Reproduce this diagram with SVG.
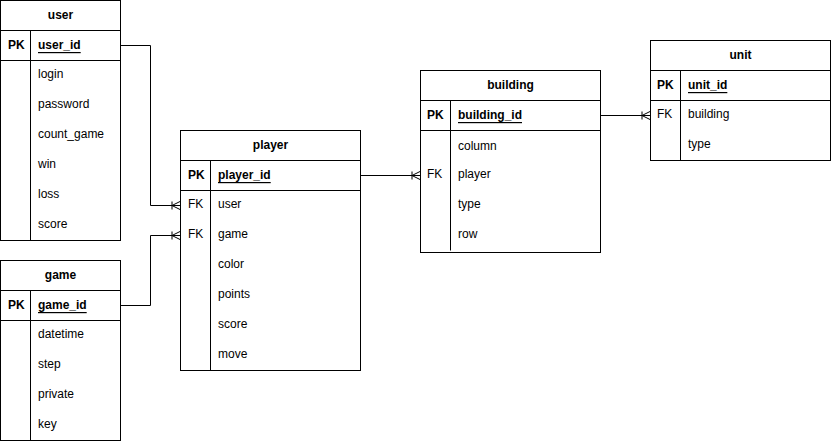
<svg xmlns="http://www.w3.org/2000/svg" width="831" height="444" viewBox="0 0 831 444">
<style>
.box{fill:#fff;stroke:#000;stroke-width:1}
.ln{stroke:#000;stroke-width:1;fill:none}
text{font-family:"Liberation Sans",Arial,Helvetica,sans-serif;font-size:12px;fill:#000;dominant-baseline:central}
.h{font-weight:bold;text-anchor:middle}
.b{font-weight:bold}
.u{text-decoration:underline}
</style>
<defs>
<marker id="many" markerWidth="12" markerHeight="12" refX="10" refY="6" orient="auto" markerUnits="userSpaceOnUse">
<path d="M2,2 L2,10 M2,6 L10,2 M2,6 L10,6 M2,6 L10,10" fill="none" stroke="#000" stroke-width="1"/>
</marker>
</defs>
<rect width="831" height="444" fill="#fff"/>
<g id="connectors">
<path class="ln" d="M120.5,45.5 H150.5 V205.5 H180" marker-end="url(#many)"/>
<path class="ln" d="M120.5,305.5 H150.5 V235.5 H180" marker-end="url(#many)"/>
<path class="ln" d="M360.5,175.5 H420" marker-end="url(#many)"/>
<path class="ln" d="M600.5,115.5 H650" marker-end="url(#many)"/>
</g>
<g id="user">
<rect class="box" x="0.5" y="0.5" width="120" height="240"/>
<path class="ln" d="M0.5,30.5 H120.5 M0.5,60.5 H120.5 M30.5,30.5 V240.5"/>
<text class="h" x="60.5" y="15">user</text>
<text class="b" x="8" y="45">PK</text>
<text class="b u" x="38" y="45">user_id</text>
<text x="38" y="74">login</text>
<text x="38" y="104">password</text>
<text x="38" y="134">count_game</text>
<text x="38" y="164">win</text>
<text x="38" y="194">loss</text>
<text x="38" y="224">score</text>
</g>
<g id="game">
<rect class="box" x="0.5" y="260.5" width="120" height="180"/>
<path class="ln" d="M0.5,290.5 H120.5 M0.5,320.5 H120.5 M30.5,290.5 V440.5"/>
<text class="h" x="60.5" y="275">game</text>
<text class="b" x="8" y="305">PK</text>
<text class="b u" x="38" y="305">game_id</text>
<text x="38" y="334">datetime</text>
<text x="38" y="364">step</text>
<text x="38" y="394">private</text>
<text x="38" y="424">key</text>
</g>
<g id="player">
<rect class="box" x="180.5" y="130.5" width="180" height="240"/>
<path class="ln" d="M180.5,160.5 H360.5 M180.5,190.5 H360.5 M210.5,160.5 V370.5"/>
<text class="h" x="270.5" y="145">player</text>
<text class="b" x="188" y="175">PK</text>
<text class="b u" x="218" y="175">player_id</text>
<text x="188" y="204">FK</text>
<text x="218" y="204">user</text>
<text x="188" y="234">FK</text>
<text x="218" y="234">game</text>
<text x="218" y="264">color</text>
<text x="218" y="294">points</text>
<text x="218" y="324">score</text>
<text x="218" y="354">move</text>
</g>
<g id="building">
<rect class="box" x="420.5" y="70.5" width="180" height="182"/>
<path class="ln" d="M420.5,100.5 H600.5 M420.5,130.5 H600.5 M450.5,100.5 V250.5"/>
<text class="h" x="510.5" y="85">building</text>
<text class="b" x="427" y="115">PK</text>
<text class="b u" x="458" y="115">building_id</text>
<text x="458" y="146">column</text>
<text x="427" y="174">FK</text>
<text x="458" y="174">player</text>
<text x="458" y="204">type</text>
<text x="458" y="234">row</text>
</g>
<g id="unit">
<rect class="box" x="650.5" y="40.5" width="180" height="120"/>
<path class="ln" d="M650.5,70.5 H830.5 M650.5,100.5 H830.5 M680.5,70.5 V160.5"/>
<text class="h" x="740.5" y="55">unit</text>
<text class="b" x="657" y="85">PK</text>
<text class="b u" x="688" y="85">unit_id</text>
<text x="657" y="114">FK</text>
<text x="688" y="114">building</text>
<text x="688" y="144">type</text>
</g>
</svg>
